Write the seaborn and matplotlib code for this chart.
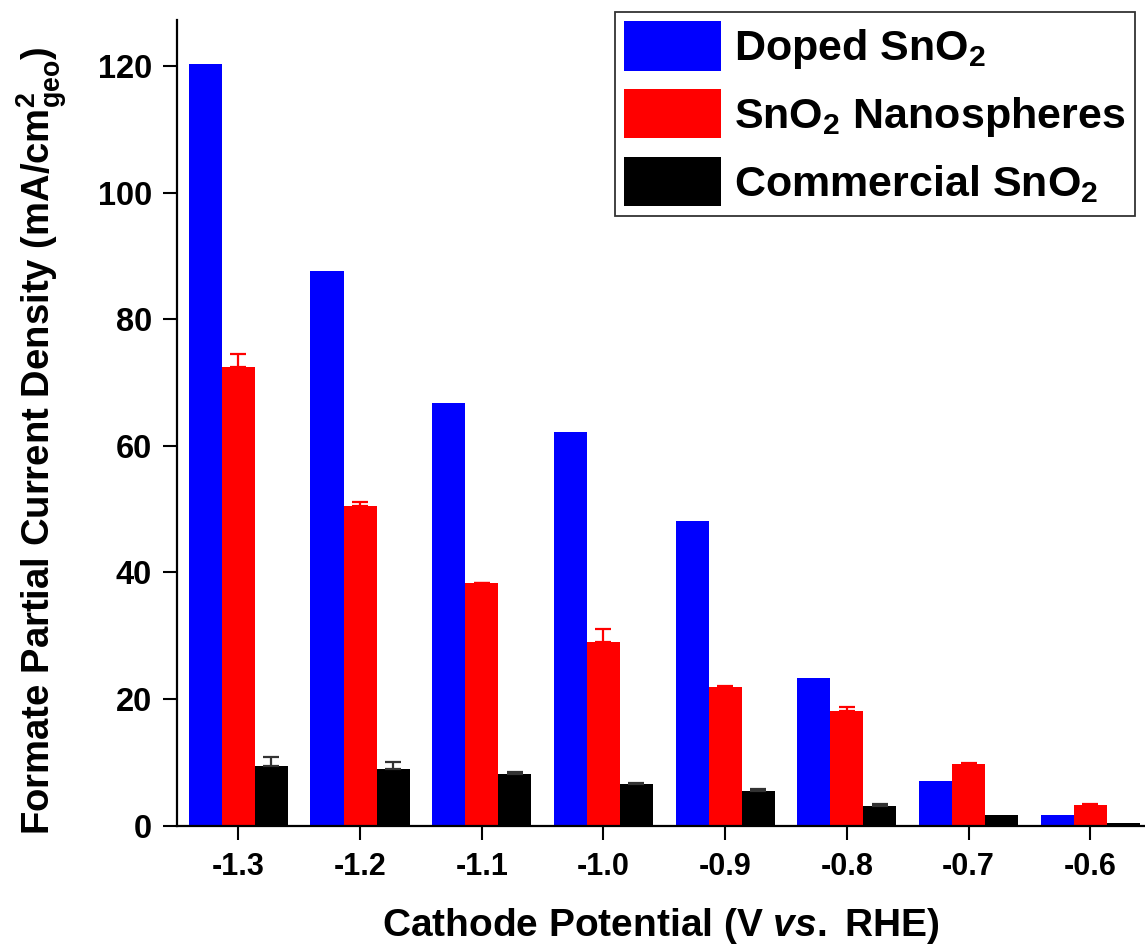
import matplotlib
matplotlib.use("Agg")
import matplotlib.pyplot as plt
import seaborn as sns
import pandas as pd
import numpy as np

# ---- data ----
potentials = ["-1.3", "-1.2", "-1.1", "-1.0", "-0.9", "-0.8", "-0.7", "-0.6"]
series_names = ["Doped SnO$_2$", "SnO$_2$ Nanospheres", "Commercial SnO$_2$"]
doped = [120.3, 87.7, 66.8, 62.2, 48.2, 23.3, 7.1, 1.7]
doped_err = [0.0, 0.0, 0.0, 0.0, 0.0, 0.0, 0.0, 0.0]
nanospheres = [72.4, 50.5, 38.3, 29.0, 21.9, 18.1, 9.8, 3.25]
nanospheres_err = [2.1, 0.7, 0.1, 2.0, 0.1, 0.6, 0.05, 0.15]
commercial = [9.45, 9.0, 8.1, 6.55, 5.4, 3.15, 1.6, 0.4]
commercial_err = [1.35, 1.0, 0.3, 0.15, 0.4, 0.2, 0.0, 0.0]
colors = ["#0000FF", "#FF0000", "#000000"]
err_colors = ["#0000FF", "#FF0000", "#333333"]
y_ticks = [0, 20, 40, 60, 80, 100, 120]

sns.set_theme(style="white")
plt.rcParams["font.family"] = ["Liberation Sans", "DejaVu Sans"]
plt.rcParams["font.weight"] = "bold"
plt.rcParams["text.color"] = "black"
plt.rcParams["axes.labelcolor"] = "black"
plt.rcParams["xtick.color"] = "black"
plt.rcParams["ytick.color"] = "black"
plt.rcParams["mathtext.fontset"] = "custom"
plt.rcParams["mathtext.rm"] = "Liberation Sans:bold"
plt.rcParams["mathtext.it"] = "Liberation Sans:italic:bold"
plt.rcParams["mathtext.bf"] = "Liberation Sans:bold"
plt.rcParams["mathtext.default"] = "rm"

values = [doped, nanospheres, commercial]
errors = [doped_err, nanospheres_err, commercial_err]
df = pd.DataFrame({
    "potential": potentials * 3,
    "series": sum([[n] * len(potentials) for n in series_names], []),
    "value": doped + nanospheres + commercial,
})

fig = plt.figure(figsize=(11.45, 9.46), dpi=100)
ax = fig.add_axes([177 / 1145, 1 - 825.6 / 946, 1 - 177 / 1145, (825.6 - 20) / 946])

sns.barplot(data=df, x="potential", y="value", hue="series", order=potentials,
            hue_order=series_names, palette=colors, width=0.815, errorbar=None,
            saturation=1, legend=False, ax=ax, linewidth=0)

for cont, err, ec in zip(ax.containers, errors, err_colors):
    xs, ys, es = [], [], []
    for patch, e in zip(cont.patches, err):
        if e > 0:
            xs.append(patch.get_x() + patch.get_width() / 2)
            ys.append(patch.get_height())
            es.append(e)
    if xs:
        ax.errorbar(xs, ys, yerr=[np.zeros(len(es)), es], fmt="none", ecolor=ec,
                    elinewidth=1.6, capsize=5.5, capthick=1.6, zorder=1)

ax.set_xlim(-0.504, 7.45)
ax.set_ylim(0, 127.3)
ax.set_yticks(y_ticks)
ax.set_yticklabels([str(t) for t in y_ticks])

for s in ["top", "right"]:
    ax.spines[s].set_visible(False)
for s in ["left", "bottom"]:
    ax.spines[s].set_color("black")
    ax.spines[s].set_linewidth(1.6)

ax.tick_params(axis="y", which="major", direction="out", length=10, width=1.5,
               labelsize=23.5, pad=8, left=True, color="black", labelcolor="black")
ax.tick_params(axis="x", which="major", direction="out", length=10, width=1.5,
               labelsize=22, pad=9, bottom=True, color="black", labelcolor="black")
for lab in ax.get_xticklabels() + ax.get_yticklabels():
    lab.set_fontweight("bold")

ax.set_xlabel("Cathode Potential (V $\\it{vs.}$ RHE)", fontsize=28, fontweight="bold",
              labelpad=17, color="black")
ax.set_ylabel("Formate Partial Current Density (mA/cm$^2_{geo}$)", fontsize=27.5,
              fontweight="bold", color="black")
ax.yaxis.set_label_coords(-0.112, 0.478)

leg = ax.legend(ax.containers, series_names, loc="upper left",
                bbox_to_anchor=(615 / 1145, 1 - 12 / 946), bbox_transform=fig.transFigure,
                borderaxespad=0, fontsize=31, frameon=True, fancybox=False,
                handlelength=2.25, handleheight=1.375, handletextpad=0.3,
                labelspacing=0.42, borderpad=0.22)
leg.get_frame().set_edgecolor("black")
leg.get_frame().set_linewidth(1.3)
for t in leg.get_texts():
    t.set_fontweight("bold")
    t.set_color("black")

fig.savefig("out.png", dpi=100)
